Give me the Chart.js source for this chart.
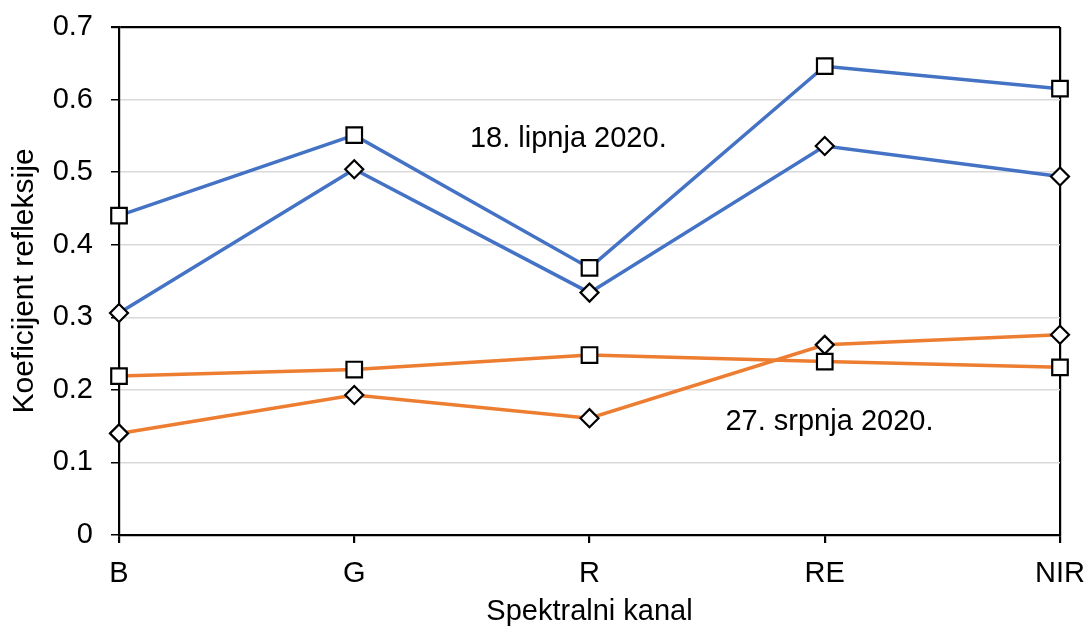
<!DOCTYPE html>
<html>
<head>
<meta charset="utf-8">
<script src="https://cdn.jsdelivr.net/npm/chart.js@4.4.1/dist/chart.umd.min.js"></script>
<style>
  html, body { margin: 0; padding: 0; background: #fff; }
  #wrap { width: 1091px; height: 631px; }
</style>
</head>
<body>
<div id="wrap"><canvas id="chart"></canvas></div>
<script>
// data
var kanali = ["B", "G", "R", "RE", "NIR"];
var lipanjKvadrat = [0.440, 0.551, 0.368, 0.646, 0.615];
var lipanjRomb = [0.306, 0.504, 0.334, 0.536, 0.494];
var srpanjKvadrat = [0.219, 0.228, 0.248, 0.239, 0.231];
var srpanjRomb = [0.140, 0.193, 0.161, 0.262, 0.276];
var yTicks = [0, 0.1, 0.2, 0.3, 0.4, 0.5, 0.6, 0.7];

var blue = "#4472C4";
var orange = "#ED7D31";
var font = "'Liberation Sans', Arial, sans-serif";

function serija(label, data, color, shape, r) {
  return {
    label: label,
    data: data,
    borderColor: color,
    borderWidth: 3.5,
    pointStyle: shape,
    pointRadius: r,
    pointBackgroundColor: "#fff",
    pointBorderColor: "#000",
    pointBorderWidth: 2.2,
    tension: 0
  };
}

// text labels placed in data coordinates
var natpisi = [
  { text: "18. lipnja 2020.", x: 1.91, y: 0.546 },
  { text: "27. srpnja 2020.", x: 3.02, y: 0.156 }
];

var natpisPlugin = {
  id: "natpisi",
  afterDatasetsDraw: function(chart) {
    var ctx = chart.ctx;
    var x = chart.scales.x, y = chart.scales.y;
    ctx.save();
    ctx.font = "29px " + font;
    ctx.fillStyle = "#000";
    ctx.textAlign = "center";
    ctx.textBaseline = "middle";
    natpisi.forEach(function(n) {
      ctx.fillText(n.text, x.getPixelForValue(n.x), y.getPixelForValue(n.y));
    });
    // y axis title
    ctx.font = "30px " + font;
    ctx.translate(25, (chart.chartArea.top + chart.chartArea.bottom) / 2);
    ctx.rotate(-Math.PI / 2);
    ctx.fillText("Koeficijent refleksije", 0, 0);
    ctx.restore();
  }
};

new Chart(document.getElementById("chart"), {
  type: "line",
  data: {
    labels: kanali,
    datasets: [
      serija("18. lipnja 2020. (kvadrat)", lipanjKvadrat, blue, "rect", 11),
      serija("18. lipnja 2020. (romb)", lipanjRomb, blue, "rectRot", 9),
      serija("27. srpnja 2020. (kvadrat)", srpanjKvadrat, orange, "rect", 11),
      serija("27. srpnja 2020. (romb)", srpanjRomb, orange, "rectRot", 9)
    ]
  },
  options: {
    responsive: true,
    maintainAspectRatio: false,
    animation: false,
    layout: { padding: { top: 27, right: 31, left: 0, bottom: 0 } },
    plugins: {
      legend: { display: false },
      tooltip: { enabled: false }
    },
    scales: {
      x: {
        offset: false,
        border: { display: true, color: "#000", width: 2.2 },
        grid: {
          drawOnChartArea: true,
          color: function(c) { return c.index === kanali.length - 1 ? "#000" : "rgba(0,0,0,0)"; },
          lineWidth: 2.2,
          tickColor: "#000",
          tickLength: 8
        },
        ticks: { color: "#000", font: { family: font, size: 29 }, padding: 14, maxRotation: 0 },
        title: { display: true, text: "Spektralni kanal", color: "#000", font: { family: font, size: 29 }, padding: { top: 2, bottom: 2 } },
        afterFit: function(s) { s.height = 96; s.paddingLeft = 0; s.paddingRight = 0; }
      },
      y: {
        min: 0,
        max: 0.7,
        border: { display: true, color: "#000", width: 2.2 },
        grid: {
          color: function(c) { return c.tick && c.tick.value === 0.7 ? "#000" : "#d9d9d9"; },
          lineWidth: function(c) { return c.tick && c.tick.value === 0.7 ? 2.2 : 1.5; },
          tickColor: "#000",
          tickLength: 8
        },
        afterBuildTicks: function(s) { s.ticks = yTicks.map(function(v) { return { value: v }; }); },
        ticks: {
          color: "#000",
          font: { family: font, size: 29 },
          padding: 18,
          callback: function(v) { return v === 0 ? "0" : v.toFixed(1); }
        },
        title: { display: false },
        afterFit: function(s) { s.width = 119; s.paddingTop = 0; s.paddingBottom = 0; }
      }
    }
  },
  plugins: [natpisPlugin]
});
</script>
</body>
</html>
